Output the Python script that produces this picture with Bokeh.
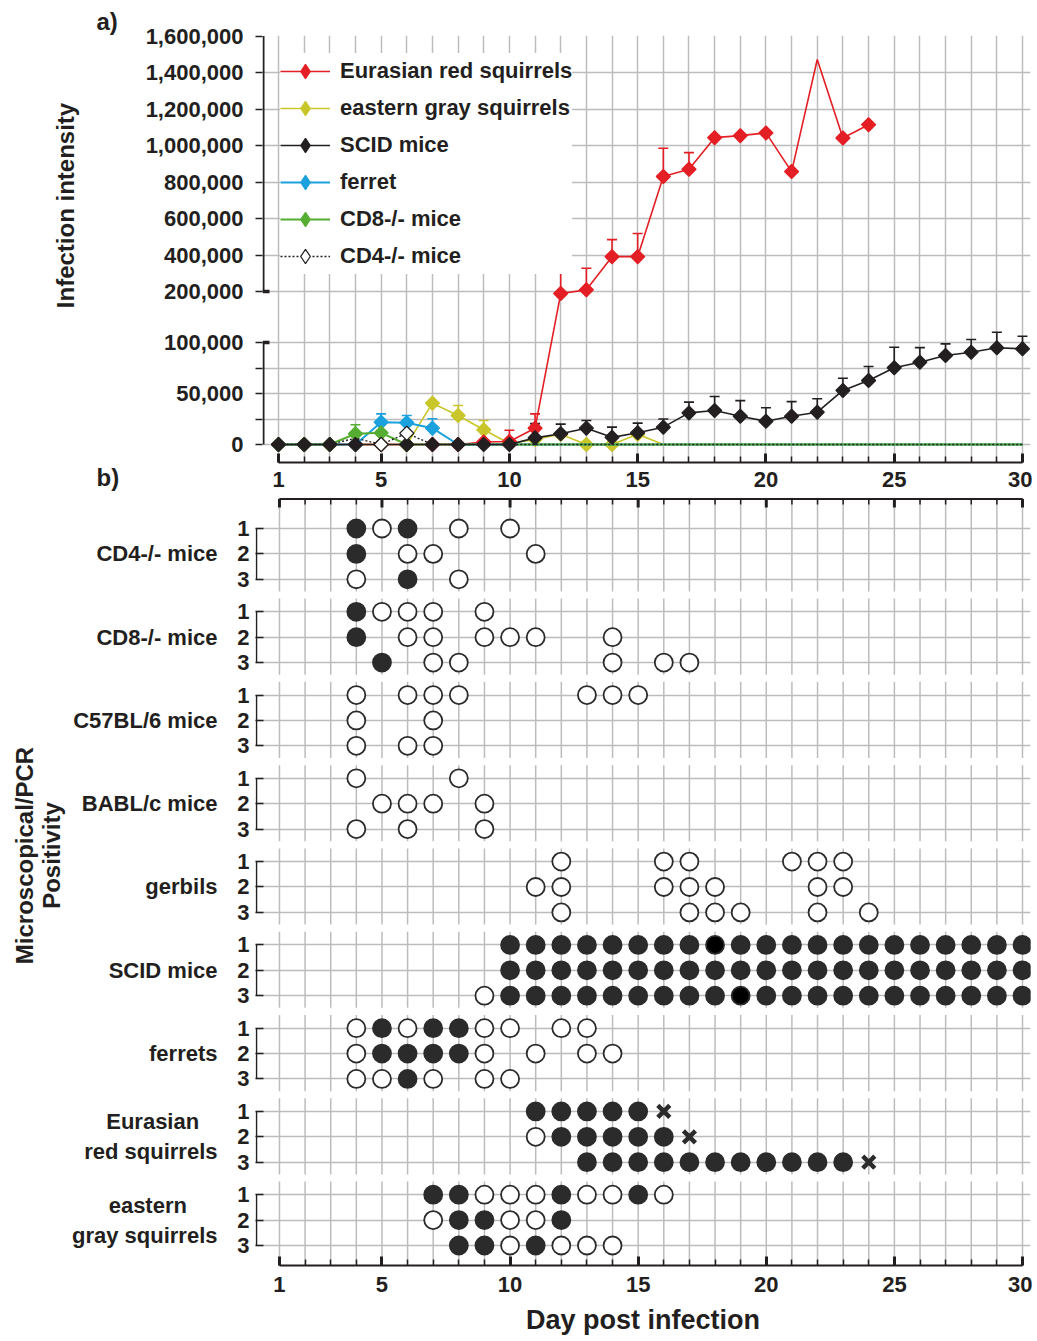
import numpy as np
from bokeh.plotting import figure
from bokeh.layouts import column, row
from bokeh.models import (Range1d, FixedTicker, LinearAxis, Whisker, TeeHead, Title,
                          ColumnDataSource, Legend, LegendItem)
from bokeh.core.properties import value
from bokeh.embed import file_html
from bokeh.resources import INLINE

# ---------------------------------------------------------------- data
DAYS = list(range(1, 31))
DAY_TICKS = [1, 5, 10, 15, 20, 25, 30]

# panel a: mean infection intensity per day, upper ends of error bars
RED_VALUES = [0, 0, 0, 0, 0, 0, 0, 0, 2500, 3000, 16000, 196000, 209000, 391000,
              391000, 830000, 870000, 1043000, 1054000, 1069000, 857000, 1471000,
              1041000, 1114000]
RED_MARKER_DAYS = [1, 2, 3, 4, 5, 6, 7, 8, 9, 10, 11, 12, 13, 14, 15, 16, 17, 18, 19,
                   20, 21, 23, 24]
RED_ERR_DAYS = [10, 11, 12, 13, 14, 15, 16, 17]
RED_ERR_UPPER = [14000, 30000, 315000, 327000, 484000, 518000, 985000, 961000]

YELLOW_VALUES = [0, 0, 0, 0, 0, 0, 40500, 28400, 14400, 1000, 5000, 10000, 0, 0, 10000,
                 0, 0, 0, 0, 0, 0, 0, 0, 0, 0, 0, 0, 0, 0, 0]
YELLOW_MARKER_DAYS = [1, 2, 3, 4, 5, 6, 7, 8, 9, 10, 11, 12, 13, 14, 15]
YELLOW_ERR_DAYS = [8, 9]
YELLOW_ERR_UPPER = [38200, 23500]

BLACK_VALUES = [0, 0, 0, 0, 0, 0, 0, 0, 0, 0, 6500, 10500, 16000, 7000, 11500, 17000,
                31000, 33300, 27700, 22800, 27700, 31700, 53000, 62700, 75200, 80700,
                87300, 90500, 94800, 93800]
BLACK_MARKER_DAYS = DAYS
BLACK_ERR_DAYS = [11, 12, 13, 14, 15, 16, 17, 18, 19, 20, 21, 22, 23, 24, 25, 26, 27,
                  28, 29, 30]
BLACK_ERR_UPPER = [20500, 20000, 23500, 17000, 21000, 25000, 41500, 47000, 43000,
                   36000, 42000, 44800, 65000, 76500, 95400, 95000, 98700, 105900,
                   120200, 112400]

BLUE_VALUES = [0, 0, 0, 0, 21900, 21300, 16000, 0, 0, 0, 0, 0, 0, 0, 0, 0, 0, 0, 0, 0,
               0, 0, 0, 0, 0, 0, 0, 0, 0, 0]
BLUE_MARKER_DAYS = [1, 2, 3, 4, 5, 6, 7]
BLUE_ERR_DAYS = [5, 6, 7]
BLUE_ERR_UPPER = [30000, 28400, 25200]

GREEN_VALUES = [0, 0, 0, 10500, 11400, 0, 0, 0, 0, 0, 0, 0, 0, 0, 0, 0, 0, 0, 0, 0,
                0, 0, 0, 0, 0, 0, 0, 0, 0, 0]
GREEN_MARKER_DAYS = [1, 2, 3, 4, 5, 6]
GREEN_ERR_DAYS = [4]
GREEN_ERR_UPPER = [19300]

CD4_VALUES = [0, 0, 0, 6200, 0, 11000, 0, 0, 0, 0, 0, 0, 0, 0, 0, 0, 0, 0, 0, 0,
              0, 0, 0, 0, 0, 0, 0, 0, 0, 0]
CD4_MARKER_DAYS = [5, 6]
CD4_ERR_DAYS = [6]
CD4_ERR_UPPER = [21900]

SERIES_NAMES = ["Eurasian red squirrels", "eastern gray squirrels", "SCID mice",
                "ferret", "CD8-/- mice", "CD4-/- mice"]

Y_TICK_VALUES = [0, 50000, 100000, 200000, 400000, 600000, 800000,
                 1000000, 1200000, 1400000, 1600000]
Y_TICK_LABELS = ["0", "50,000", "100,000", "200,000", "400,000", "600,000",
                 "800,000", "1,000,000", "1,200,000", "1,400,000", "1,600,000"]
Y_MINOR_VALUES = [25000, 75000]
Y_BREAK = [100000, 200000]

# panel b: per animal (rows 1-3) and day 1..30
# '.' none, 'o' negative/open, '#' positive, 'k' positive (black), 'x' died
GROUP_NAMES = ["CD4-/- mice", "CD8-/- mice", "C57BL/6 mice", "BABL/c mice", "gerbils",
               "SCID mice", "ferrets", "Eurasian\nred squirrels",
               "eastern\ngray squirrels"]
CD4_ROWS = ["...#o #.o.o ..... ..... ..... .....",
            "...#. oo... o.... ..... ..... .....",
            "...o. #.o.. ..... ..... ..... ....."]
CD8_ROWS = ["...#o oo.o. ..... ..... ..... .....",
            "...#. oo.oo o..o. ..... ..... .....",
            "....# .oo.. ...o. oo... ..... ....."]
C57_ROWS = ["...o. ooo.. ..ooo ..... ..... .....",
            "...o. .o... ..... ..... ..... .....",
            "...o. oo... ..... ..... ..... ....."]
BALB_ROWS = ["...o. ..o.. ..... ..... ..... .....",
             "....o oo.o. ..... ..... ..... .....",
             "...o. o..o. ..... ..... ..... ....."]
GERBIL_ROWS = ["..... ..... .o... oo... ooo.. .....",
               "..... ..... oo... ooo.. .oo.. .....",
               "..... ..... .o... .ooo. .o.o. ....."]
SCID_ROWS = ["..... ....# ##### ##k## ##### #####",
             "..... ....# ##### ##### ##### #####",
             "..... ...o# ##### ###k# ##### #####"]
FERRET_ROWS = ["...o# o##oo .oo.. ..... ..... .....",
               "...o# ###o. o.oo. ..... ..... .....",
               "...oo #o.oo ..... ..... ..... ....."]
RED_SQ_ROWS = ["..... ..... ##### x.... ..... .....",
               "..... ..... o#### #x... ..... .....",
               "..... ..... ..### ##### ###x. ....."]
GRAY_SQ_ROWS = ["..... .##oo o#oo# o.... ..... .....",
                "..... .o##o o#... ..... ..... .....",
                "..... ..##o #ooo. ..... ..... ....."]
GROUP_ROWS = [CD4_ROWS, CD8_ROWS, C57_ROWS, BALB_ROWS, GERBIL_ROWS, SCID_ROWS,
              FERRET_ROWS, RED_SQ_ROWS, GRAY_SQ_ROWS]

# ---------------------------------------------------------------- style
FONT = "Liberation Sans"
INK = "#231f20"
GRID = "#bcbcbc"
RED = "#e31e24"
YELLOW = "#c9c62c"
BLACK = "#231f20"
BLUE = "#1ba1dd"
GREEN = "#55ad32"
DOT = "#2b2b2b"
PX = 25.655  # pixels per day

# approximate bold sans advance widths (1/1000 em) for centring two-line labels
_W = {"i": 278, "l": 278, "j": 278, " ": 278, "f": 333, "t": 333, "r": 389,
      "m": 889, "w": 778, "z": 500, "E": 667}


def _width(s):
    return sum(_W.get(c, 722 if c.isupper() else 580) for c in s)


def centre_lines(name):
    """pad the shorter lines of a multi-line label so the lines look centred"""
    lines = name.split("\n")
    if len(lines) == 1:
        return name
    wmax = max(_width(l) for l in lines)
    out = []
    for l in lines:
        n = int(round((wmax - _width(l)) / 2 / 278))
        out.append(l + "\u00a0" * n)
    return "\n".join(out)


def tv(v):
    """broken-axis mapping of an intensity onto the plot's y coordinate (half pixels)"""
    if v <= 100000:
        return v * 204 / 100000
    if v <= 200000:
        return 204 + (v - 100000) * 102 / 100000
    return 306 + (v - 200000) * 73 / 200000


def text_style(ax, size="22px"):
    ax.major_label_text_font = FONT
    ax.major_label_text_font_style = "bold"
    ax.major_label_text_font_size = size
    ax.major_label_text_color = INK


def day_axis(ax):
    ax.ticker = FixedTicker(ticks=DAY_TICKS, minor_ticks=DAYS)
    ax.bounds = (1, 30)
    ax.axis_line_color = INK
    ax.axis_line_width = 2
    ax.major_tick_in = 9
    ax.major_tick_out = 0
    ax.major_tick_line_width = 3
    ax.major_tick_line_color = INK
    ax.minor_tick_in = 6
    ax.minor_tick_out = 0
    ax.minor_tick_line_width = 1.5
    ax.minor_tick_line_color = INK
    text_style(ax)
    ax.major_label_standoff = 9


def strip(width, height, top, bottom):
    """narrow text column whose frame lines up with the neighbouring panel"""
    s = figure(width=width, height=height, x_range=Range1d(0, width),
               y_range=Range1d(-bottom, -top), output_backend="svg",
               toolbar_location=None, x_axis_type=None, y_axis_type=None,
               min_border_left=0, min_border_right=0, min_border_top=top,
               min_border_bottom=height - bottom)
    s.outline_line_alpha = 0
    return s


def strip_text(s, items, angle=0.0, size="24px"):
    s.text(x=[it[0] for it in items], y=[-it[1] for it in items],
           text=[it[2] for it in items], angle=angle, text_align="center",
           text_baseline="middle", text_font=value(FONT), text_font_style="bold",
           text_font_size=value(size), text_color=INK)


def tag_title(text, offset):
    return Title(text=text, align="left", offset=offset, standoff=0,
                 vertical_align="middle", text_font=FONT, text_font_style="bold",
                 text_font_size="24px", text_color=INK)


# ---------------------------------------------------------------- panel a
STRIP_A = 125
PA_H = 497
PA_TOP, PA_BOTTOM = 35, 462
xa0 = 1 - 16 / PX
pa = figure(width=907, height=PA_H, x_range=Range1d(xa0, 30 + 8 / PX),
            y_range=Range1d(-36, 818), output_backend="svg", toolbar_location=None,
            min_border_left=137, min_border_right=2, min_border_top=PA_TOP,
            min_border_bottom=PA_H - PA_BOTTOM)
pa.outline_line_alpha = 0
day_axis(pa.xaxis[0])

ytick_pos = [int(round(tv(v))) for v in Y_TICK_VALUES]
yminor_pos = [int(round(tv(v))) for v in Y_MINOR_VALUES]
ya = pa.yaxis[0]
ya.ticker = FixedTicker(ticks=ytick_pos, minor_ticks=yminor_pos)
ya.major_label_overrides = dict(zip(ytick_pos, Y_TICK_LABELS))
ya.axis_line_alpha = 0
ya.major_tick_out = 7
ya.major_tick_in = 0
ya.major_tick_line_width = 1.5
ya.major_tick_line_color = INK
ya.minor_tick_out = 7
ya.minor_tick_in = 0
ya.minor_tick_line_width = 1.5
ya.minor_tick_line_color = INK
ya.major_label_standoff = 12
text_style(ya)

pa.xgrid.ticker = FixedTicker(ticks=DAYS)
pa.ygrid.ticker = FixedTicker(ticks=ytick_pos[:-1] + yminor_pos)
for g in (pa.xgrid[0], pa.ygrid[0]):
    g.grid_line_color = GRID
    g.grid_line_width = 1.5

# broken y axis line and heavy ticks at the break
xa_line = xa0 + 1 / PX
pa.segment(x0=[xa_line, xa_line], x1=[xa_line, xa_line],
           y0=[tv(0), tv(Y_BREAK[1])], y1=[tv(Y_BREAK[0]), tv(Y_TICK_VALUES[-1])],
           line_color=INK, line_width=2)
pa.segment(x0=[xa0, xa0], x1=[xa0 + 7 / PX, xa0 + 7 / PX],
           y0=[tv(v) for v in Y_BREAK], y1=[tv(v) for v in Y_BREAK],
           line_color=INK, line_width=3.5)


def add_errors(values, err_days, err_upper, color):
    src = ColumnDataSource(dict(
        x=err_days,
        lo=[tv(values[d - 1]) for d in err_days],
        hi=[tv(u) for u in err_upper]))
    w = Whisker(source=src, base="x", lower="lo", upper="hi", dimension="height",
                line_color=color, line_width=1.6, lower_head=None,
                upper_head=TeeHead(size=10, line_color=color, line_width=1.6),
                level="underlay")
    pa.add_layout(w)


def add_line(values, color, dash="solid", width=1.6):
    return pa.line(DAYS[:len(values)], [tv(v) for v in values], line_color=color,
                   line_width=width, line_dash=dash)


def add_markers(values, days, color, fill):
    return pa.scatter(list(days), [tv(values[d - 1]) for d in days],
                      marker="square", angle=np.pi / 4, size=10, fill_color=fill,
                      line_color=color, line_width=1.2)


def legend_marker(color, fill):
    # legend-only proxy (no visible point)
    return pa.scatter(x=[np.nan], y=[np.nan], marker="diamond", size=14,
                      fill_color=fill, line_color=color, line_width=1.2)


add_errors(RED_VALUES, RED_ERR_DAYS, RED_ERR_UPPER, RED)
add_errors(YELLOW_VALUES, YELLOW_ERR_DAYS, YELLOW_ERR_UPPER, YELLOW)
add_errors(BLACK_VALUES, BLACK_ERR_DAYS, BLACK_ERR_UPPER, BLACK)
add_errors(BLUE_VALUES, BLUE_ERR_DAYS, BLUE_ERR_UPPER, BLUE)
add_errors(GREEN_VALUES, GREEN_ERR_DAYS, GREEN_ERR_UPPER, GREEN)
add_errors(CD4_VALUES, CD4_ERR_DAYS, CD4_ERR_UPPER, BLACK)

y_line = add_line(YELLOW_VALUES, YELLOW)
add_markers(YELLOW_VALUES, YELLOW_MARKER_DAYS, YELLOW, YELLOW)
r_line = add_line(RED_VALUES, RED)
add_markers(RED_VALUES, RED_MARKER_DAYS, RED, RED)
b_line = add_line(BLUE_VALUES, BLUE, width=2)
add_markers(BLUE_VALUES, BLUE_MARKER_DAYS, BLUE, BLUE)
g_line = add_line(GREEN_VALUES, GREEN, width=2)
add_markers(GREEN_VALUES, GREEN_MARKER_DAYS, GREEN, GREEN)
c_line = add_line(CD4_VALUES, BLACK, dash="2 2", width=1.4)
k_line = add_line(BLACK_VALUES, BLACK)
add_markers(BLACK_VALUES, BLACK_MARKER_DAYS, BLACK, BLACK)
add_markers(CD4_VALUES, CD4_MARKER_DAYS, BLACK, "white")

legend = Legend(items=[
    LegendItem(label=SERIES_NAMES[0], renderers=[r_line, legend_marker(RED, RED)]),
    LegendItem(label=SERIES_NAMES[1], renderers=[y_line, legend_marker(YELLOW, YELLOW)]),
    LegendItem(label=SERIES_NAMES[2], renderers=[k_line, legend_marker(BLACK, BLACK)]),
    LegendItem(label=SERIES_NAMES[3], renderers=[b_line, legend_marker(BLUE, BLUE)]),
    LegendItem(label=SERIES_NAMES[4], renderers=[g_line, legend_marker(GREEN, GREEN)]),
    LegendItem(label=SERIES_NAMES[5], renderers=[c_line, legend_marker(BLACK, "white")]),
], location="top_left", margin=18, padding=0, spacing=1, label_height=36,
    glyph_height=36, glyph_width=50, label_standoff=10,
    background_fill_color="white", background_fill_alpha=1, border_line_alpha=0,
    label_text_font=FONT, label_text_font_style="bold", label_text_font_size="22px",
    label_text_color=INK)
pa.add_layout(legend)

sa = strip(STRIP_A, PA_H, PA_TOP, PA_BOTTOM)
strip_text(sa, [(65, 205, "Infection intensity")], angle=np.pi / 2)
sa.add_layout(tag_title("a)", 96), "above")
sa.add_layout(tag_title("b)", 96), "below")

# ---------------------------------------------------------------- panel b
STRIP_B = 68
PB_TOP = PA_H          # page y of panel b frame top
PB_H = 1341 - PA_H
PB_BOTTOM = 1265
ROW_PITCH = 25
GROUP_PITCH = 82
UNIT = 1.01558        # px per row unit
ROW0 = 528            # page y of first row


def pby(page_y):
    return (page_y - ROW0) / UNIT


YB_TOP = pby(PB_TOP)
YB_BOTTOM = pby(PB_BOTTOM)
xb0 = 1 - 24 / PX
pb = figure(width=964, height=PB_H, x_range=Range1d(xb0, 30 + 8 / PX),
            y_range=Range1d(YB_BOTTOM, YB_TOP), output_backend="svg",
            toolbar_location=None, min_border_left=186, min_border_right=2,
            min_border_top=0, min_border_bottom=1341 - PB_BOTTOM)
pb.outline_line_alpha = 0


def row_pos(g, r):
    return g * GROUP_PITCH + r * ROW_PITCH


n_groups = len(GROUP_ROWS)
rows = [row_pos(g, r) for g in range(n_groups) for r in range(3)]
mids = [row_pos(g, 1) for g in range(n_groups)]

# vertical day lines, broken between groups
sx, sy0, sy1 = [], [], []
for g in range(n_groups):
    top = row_pos(g, 0) - 13 if g > 0 else YB_TOP
    bot = row_pos(g, 2) + 12 if g < n_groups - 1 else YB_BOTTOM
    for d in DAYS:
        sx.append(d)
        sy0.append(top)
        sy1.append(bot)
pb.segment(x0=sx, y0=sy0, x1=sx, y1=sy1, line_color=GRID, line_width=1.5)

# top axis of panel b (line + inward ticks)
y_ax = pby(PB_TOP + 1.5)
pb.segment(x0=[DAYS[0]], x1=[DAYS[-1]], y0=[y_ax], y1=[y_ax], line_color=INK,
           line_width=2)
minor_days = [d for d in DAYS if d not in DAY_TICKS]
pb.segment(x0=minor_days, x1=minor_days, y0=[y_ax] * len(minor_days),
           y1=[pby(PB_TOP + 7)] * len(minor_days), line_color=INK, line_width=1.5)
pb.segment(x0=DAY_TICKS, x1=DAY_TICKS, y0=[y_ax] * len(DAY_TICKS),
           y1=[pby(PB_TOP + 10)] * len(DAY_TICKS), line_color=INK, line_width=3)

# group brackets
xbr = xb0 + 1 / PX
pb.segment(x0=[xbr] * n_groups, y0=[row_pos(g, 0) for g in range(n_groups)],
           x1=[xbr] * n_groups, y1=[row_pos(g, 2) for g in range(n_groups)],
           line_color=INK, line_width=1.5)

cx, cy, cfill, xx, xy = [], [], [], [], []
for g, grp in enumerate(GROUP_ROWS):
    for r, s in enumerate(grp):
        s = s.replace(" ", "")
        for i, ch in enumerate(s):
            if ch == ".":
                continue
            if ch == "x":
                xx.append(DAYS[i])
                xy.append(row_pos(g, r))
                continue
            cx.append(DAYS[i])
            cy.append(row_pos(g, r))
            cfill.append({"o": "white", "#": DOT, "k": "#000000"}[ch])

pb.scatter(x=cx, y=cy, marker="circle", size=18, fill_color=cfill,
           line_color=DOT, line_width=1.8)
pb.scatter(x=xx, y=xy, marker="x", size=17, line_color=DOT, line_width=4.5)

pb.xgrid.visible = False
pb.ygrid.ticker = FixedTicker(ticks=rows)
pb.ygrid.grid_line_color = GRID
pb.ygrid.grid_line_width = 1.5

xb = pb.xaxis[0]
day_axis(xb)
xb.major_label_standoff = 11
xb.axis_label = "Day post infection"
xb.axis_label_text_font = FONT
xb.axis_label_text_font_style = "bold"
xb.axis_label_text_font_size = "27px"
xb.axis_label_text_color = INK
xb.axis_label_standoff = 10

yb = pb.yaxis[0]
yb.ticker = FixedTicker(ticks=rows)
yb.major_label_overrides = {p: str(i % 3 + 1) for i, p in enumerate(rows)}
yb.axis_line_alpha = 0
yb.major_tick_in = 8
yb.major_tick_out = 0
yb.major_tick_line_width = 1.5
yb.major_tick_line_color = INK
yb.minor_tick_line_alpha = 0
yb.major_label_standoff = 6
text_style(yb)

gax = LinearAxis(ticker=FixedTicker(ticks=mids),
                 major_label_overrides={m: centre_lines(n)
                                        for m, n in zip(mids, GROUP_NAMES)})
gax.axis_line_alpha = 0
gax.major_tick_line_alpha = 0
gax.minor_tick_line_alpha = 0
gax.major_tick_in = 0
gax.major_tick_out = 0
gax.major_label_standoff = 17
text_style(gax)
pb.add_layout(gax, "left")

sb = strip(STRIP_B, PB_H, 0, PB_BOTTOM - PB_TOP)
sb.y_range = Range1d(-PB_BOTTOM, -PB_TOP)
strip_text(sb, [(24, 855, "Microscopical/PCR"), (51, 855, "Positivity")],
           angle=np.pi / 2)

layout = column(row(sa, pa), row(sb, pb))
open("out.html", "w").write(file_html(layout, INLINE))
